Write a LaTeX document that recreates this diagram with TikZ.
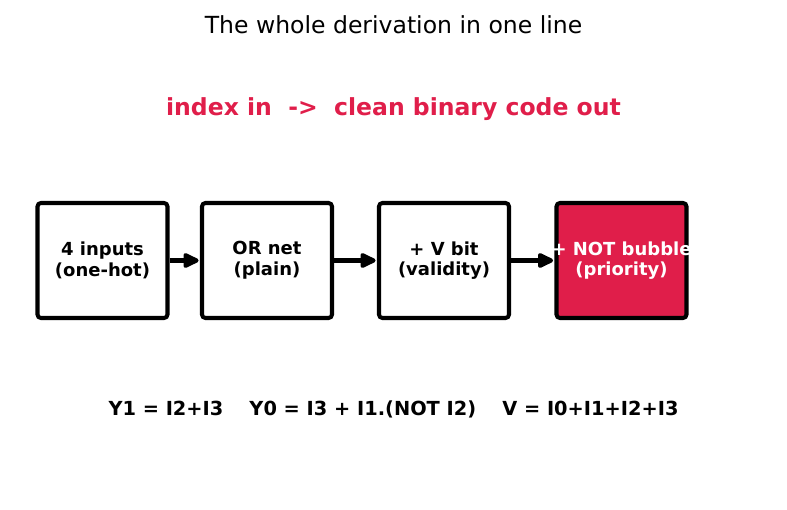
\documentclass[tikz,border=0pt]{standalone}
\usepackage{fontspec}
\setmainfont{DejaVu Sans}
\usetikzlibrary{arrows.meta}
\definecolor{crim}{RGB}{224,30,74}
\begin{document}
\begin{tikzpicture}[x=0.72bp,y=-0.72bp,
  stage/.style={draw=black,line width=2.9bp,rounded corners=2.5bp,minimum width=130*0.72bp,minimum height=115*0.72bp,align=center,font=\bfseries\fontsize{13}{15}\selectfont,inner sep=0pt},
  flow/.style={line width=2.9bp,-{Triangle[length=13bp,width=11.5bp,round]},shorten >=1bp}]
\useasboundingbox (0,0) rectangle (787,510);
\node (title) at (393.5,25) {\fontsize{17}{20}\selectfont The whole derivation in one line};
\node[text=crim] (sub) at (393.5,109) {\bfseries\fontsize{17}{20}\selectfont index in\ \ ->\ \ clean binary code out};
\node[stage,fill=white] (a) at (102.5,260.5) {\makebox[0pt]{4 inputs}\\\makebox[0pt]{(one-hot)}};
\node[stage,fill=white] (b) at (267,260.5) {\makebox[0pt]{OR net}\\\makebox[0pt]{(plain)}};
\node[stage,fill=white] (c) at (444,260.5) {\makebox[0pt]{+ V bit}\\\makebox[0pt]{(validity)}};
\node[stage,fill=crim,text=white] (d) at (621.5,260.5) {\makebox[0pt]{+ NOT bubble}\\\makebox[0pt]{(priority)}};
\draw[flow] (a) -- (b);
\draw[flow] (b) -- (c);
\draw[flow] (c) -- (d);
\node (eq) at (393.5,409) {\bfseries\fontsize{14}{17}\selectfont Y1 = I2+I3\quad\ Y0 = I3 + I1.(NOT I2)\quad\ V = I0+I1+I2+I3};
\end{tikzpicture}
\end{document}
